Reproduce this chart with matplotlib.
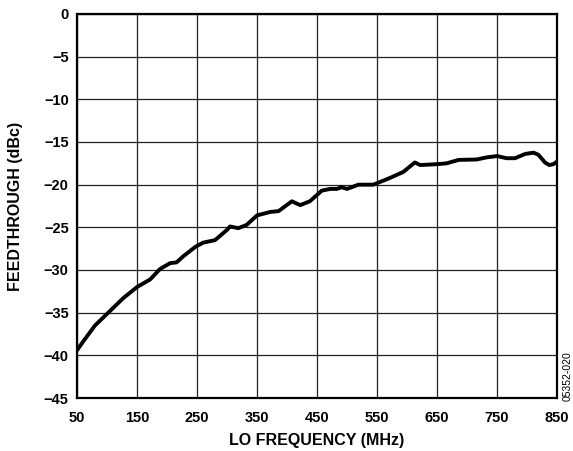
import matplotlib
matplotlib.use("Agg")
from matplotlib import pyplot
import matplotlib.ticker as ticker

# LO feedthrough vs LO frequency
freq_mhz = [50, 60, 80, 105, 127, 150, 172, 188, 205, 216, 227, 247, 260, 280, 300,
            305, 319, 333, 350, 372, 386, 408, 422, 438, 458, 472, 483, 491, 500,
            519, 544, 572, 594, 613, 622, 650, 666, 686, 716, 733, 750, 766, 780,
            797, 811, 819, 830, 837, 844, 850]
feedthrough_dbc = [-39.4, -38.4, -36.5, -34.8, -33.3, -32.0, -31.1, -29.9, -29.2, -29.1,
                   -28.4, -27.3, -26.8, -26.5, -25.3, -24.9, -25.1, -24.7, -23.6, -23.2,
                   -23.1, -21.95, -22.4, -21.95, -20.7, -20.5, -20.5, -20.3, -20.5,
                   -20.0, -20.0, -19.2, -18.5, -17.4, -17.7, -17.6, -17.5, -17.1, -17.05,
                   -16.8, -16.65, -16.9, -16.9, -16.4, -16.25, -16.5, -17.4, -17.7, -17.6, -17.3]

x_ticks = [50, 150, 250, 350, 450, 550, 650, 750, 850]
y_ticks = [0, -5, -10, -15, -20, -25, -30, -35, -40, -45]

pyplot.rcParams['font.family'] = ['Liberation Sans', 'DejaVu Sans']
pyplot.rcParams['font.weight'] = 'bold'

fig = pyplot.figure(figsize=(5.73, 4.51), dpi=100)
ax = fig.add_axes([0.1344, 0.1175, 0.8377, 0.8515])

ax.plot(freq_mhz, feedthrough_dbc, color='black', linewidth=2.8, solid_capstyle='round')

ax.set_xlim(50, 850)
ax.set_ylim(-45, 0)
ax.xaxis.set_major_locator(ticker.FixedLocator(x_ticks))
ax.yaxis.set_major_locator(ticker.FixedLocator(y_ticks))
ax.tick_params(axis='both', which='major', length=0, labelsize=10.5)
ax.tick_params(axis='x', pad=9)
ax.tick_params(axis='y', pad=6)
for lbl in ax.get_xticklabels() + ax.get_yticklabels():
    lbl.set_fontweight('bold')

ax.grid(which='major', color='#222222', linewidth=0.9)
for s in ax.spines.values():
    s.set_linewidth(1.6)
    s.set_color('black')

ax.set_xlabel("LO FREQUENCY (MHz)", fontsize=11.5, fontweight='bold')
ax.set_ylabel("FEEDTHROUGH (dBc)", fontsize=11.5, fontweight='bold')
ax.xaxis.set_label_coords(0.5, -0.091)
ax.yaxis.set_label_coords(-0.112, 0.5)

fig.text(0.990, 0.166, "05352-020", rotation=90, fontsize=7.5, fontweight='normal',
         ha='center', va='center')

fig.savefig('out.png', dpi=100)
